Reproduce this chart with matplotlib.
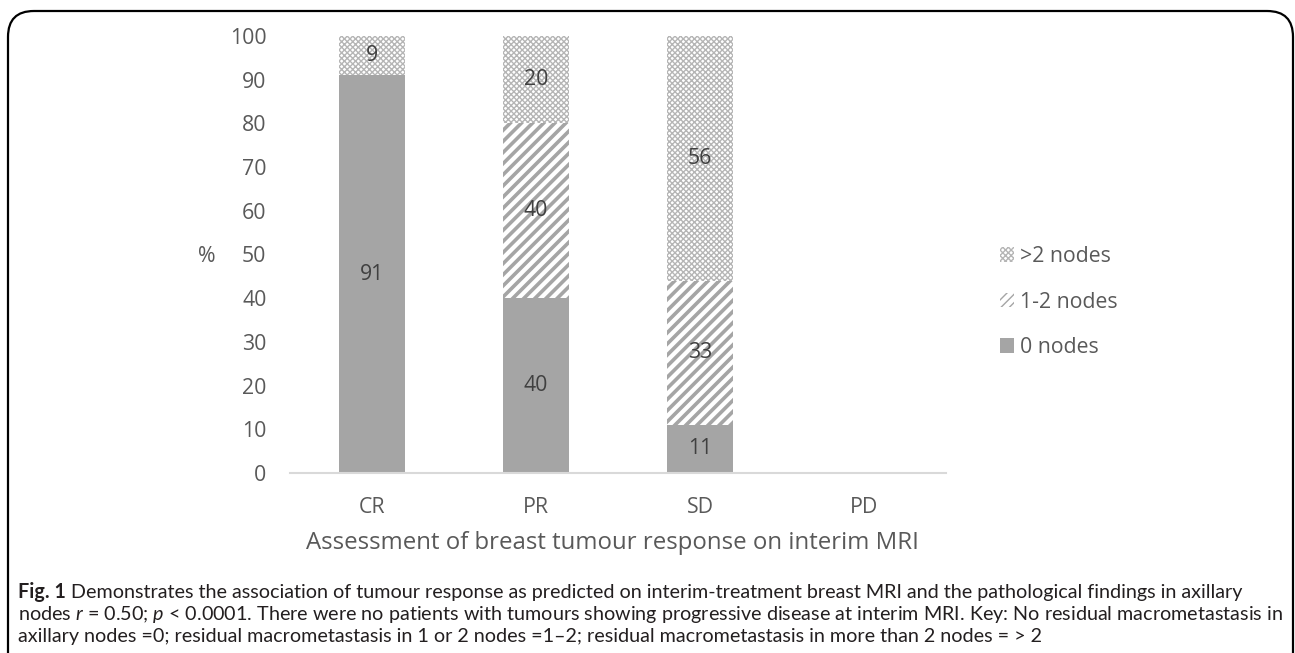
import matplotlib
matplotlib.use("Agg")
import matplotlib.pyplot as plt
from matplotlib.patches import FancyBboxPatch, Patch
from matplotlib import font_manager

categories = ["CR", "PR", "SD", "PD"]
zero_nodes = [91, 40, 11, 0]
one_two_nodes = [0, 40, 33, 0]
more_two_nodes = [9, 20, 56, 0]
series_names = [">2 nodes", "1-2 nodes", "0 nodes"]
yticks = [0, 10, 20, 30, 40, 50, 60, 70, 80, 90, 100]

x_title = "Assessment of breast tumour response on interim MRI"
caption_bold = "Fig. 1"
caption_lines = [
    " Demonstrates the association of tumour response as predicted on interim-treatment breast MRI and the pathological findings in axillary",
    "nodes $r$ = 0.50; $p$ < 0.0001. There were no patients with tumours showing progressive disease at interim MRI. Key: No residual macrometastasis in",
    "axillary nodes =0; residual macrometastasis in 1 or 2 nodes =1\u20132; residual macrometastasis in more than 2 nodes = > 2",
]

names = {f.name for f in font_manager.fontManager.ttflist}
cap_font = "Lato" if "Lato" in names else "DejaVu Sans"
main_font = "Open Sans" if "Open Sans" in names else "DejaVu Sans"
plt.rcParams["font.family"] = [main_font, "DejaVu Sans"]
plt.rcParams["mathtext.fontset"] = "custom"
plt.rcParams["mathtext.it"] = cap_font + ":italic"
plt.rcParams["mathtext.rm"] = cap_font

W, H = 1295, 653
fig = plt.figure(figsize=(W / 100, H / 100), dpi=100)
ax = fig.add_axes([290 / W, 1 - 473 / H, (946 - 290) / W, (473 - 36) / H])

solid = "#A5A5A5"
text_grey = "#595959"
fs = 15.3
x = list(range(len(categories)))
width = 0.4

b0 = ax.bar(x, zero_nodes, width, color=solid, linewidth=0)
plt.rcParams["hatch.linewidth"] = 2.6
b1 = ax.bar(x, one_two_nodes, width, bottom=zero_nodes, facecolor="white",
            edgecolor=solid, hatch="///", linewidth=0)
bottom2 = [a + b for a, b in zip(zero_nodes, one_two_nodes)]
plt.rcParams["hatch.linewidth"] = 1.0
b2 = ax.bar(x, more_two_nodes, width, bottom=bottom2, facecolor="white",
            edgecolor="#B5B5B5", hatch="xxxxxx", linewidth=0)

for bars, vals, bots in [(b0, zero_nodes, [0] * 4), (b1, one_two_nodes, zero_nodes),
                         (b2, more_two_nodes, bottom2)]:
    for xi, v, bt in zip(x, vals, bots):
        if v > 0:
            ax.text(xi, bt + v / 2, str(v), ha="center", va="center",
                    fontsize=fs, color="#404040")

ax.set_xlim(-0.5, 3.5)
ax.set_ylim(0, 100)
ax.set_yticks(yticks)
ax.set_xticks(x)
ax.set_xticklabels(categories)
ax.tick_params(axis="both", length=0, labelsize=fs, colors=text_grey)
ax.tick_params(axis="y", pad=17)
ax.tick_params(axis="x", pad=17)
for s in ["top", "right", "left"]:
    ax.spines[s].set_visible(False)
ax.spines["bottom"].set_color("#D9D9D9")
ax.spines["bottom"].set_linewidth(1.5)

fig.text(207 / W, 1 - 256 / H, "%", fontsize=fs, color=text_grey, ha="center", va="center")
fig.text(612 / W, 1 - 543 / H, x_title, fontsize=17.3, color=text_grey, ha="center", va="center")

plt.rcParams["hatch.linewidth"] = 1.0
handles = [Patch(facecolor="white", edgecolor="#B5B5B5", hatch="xxxxxx", linewidth=0),
           Patch(facecolor="white", edgecolor=solid, hatch="////", linewidth=0),
           Patch(facecolor=solid, linewidth=0)]
leg = fig.legend(handles, series_names, loc="center left",
                 bbox_to_anchor=(989 / W, 1 - 302 / H), frameon=False, borderpad=0,
                 fontsize=fs, labelcolor=text_grey, handlelength=0.66,
                 handleheight=0.66, handletextpad=0.3, labelspacing=1.15)

# border
fig.patches.append(FancyBboxPatch((8 / W, -0.05), (1293 - 8) / W, (1 - 11 / H) + 0.05,
                                  boxstyle="round,pad=0,rounding_size=0.02",
                                  transform=fig.transFigure, facecolor="none",
                                  edgecolor="black", linewidth=1.6,
                                  mutation_aspect=W / H))

# caption: fit first line width to the reference (x = 18 .. 1248 px)
fig.canvas.draw()
r = fig.canvas.get_renderer()
probe_b = fig.text(0, 0, caption_bold, fontsize=10, fontweight="bold", family=[cap_font, "DejaVu Sans"])
probe_r = fig.text(0, 0, caption_lines[0], fontsize=10, family=[cap_font, "DejaVu Sans"])
wsum = probe_b.get_window_extent(r).width + probe_r.get_window_extent(r).width
probe_b.remove()
probe_r.remove()
cap_size = 10 * (1248 - 18) / wsum

ys = [598, 620, 642]
tb = fig.text(18 / W, 1 - ys[0] / H, caption_bold, fontsize=cap_size, fontweight="bold",
              family=[cap_font, "DejaVu Sans"], va="baseline", color="#231F20")
bb = tb.get_window_extent(renderer=r)
fig.text(bb.x1 / W, 1 - ys[0] / H, caption_lines[0], fontsize=cap_size,
         family=[cap_font, "DejaVu Sans"], va="baseline", color="#231F20")
for line, yy in zip(caption_lines[1:], ys[1:]):
    fig.text(18 / W, 1 - yy / H, line, fontsize=cap_size,
             family=[cap_font, "DejaVu Sans"], va="baseline", color="#231F20")

fig.savefig("out.png", dpi=100)
